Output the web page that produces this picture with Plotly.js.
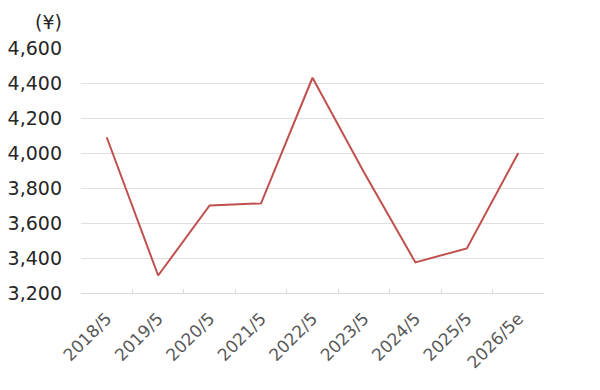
<!DOCTYPE html>
<html>
<head>
<meta charset="utf-8">
<script src="https://cdn.plot.ly/plotly-3.0.1.min.js"></script>
<style>html,body{margin:0;padding:0;background:#fff;}#chart{width:600px;height:390px;}</style>
</head>
<body>
<div id="chart"></div>
<script>
const categories = ["2018/5","2019/5","2020/5","2021/5","2022/5","2023/5","2024/5","2025/5","2026/5e"];
const values = [4090, 3300, 3700, 3712, 4430, 3890, 3375, 3455, 4000];
const yTicks = [3200, 3400, 3600, 3800, 4000, 4200, 4400, 4600];
const yTickLabels = ["3,200","3,400","3,600","3,800","4,000","4,200","4,400","4,600"];
const unitLabel = "(¥)";

const trace = {
  type: "scatter",
  mode: "lines",
  x: categories,
  y: values,
  line: {color: "#c0504d", width: 2},
  hoverinfo: "x+y"
};

const layout = {
  width: 600,
  height: 390,
  margin: {l: 81, r: 56, t: 48, b: 97},
  paper_bgcolor: "#ffffff",
  plot_bgcolor: "#ffffff",
  showlegend: false,
  font: {family: "DejaVu Sans, Verdana, sans-serif", color: "#333333"},
  xaxis: {
    type: "category",
    range: [-0.5, categories.length - 0.5],
    tickson: "boundaries",
    ticks: "inside",
    ticklen: 4,
    tickcolor: "#d9d9d9",
    showline: true,
    linecolor: "#d9d9d9",
    linewidth: 1,
    showgrid: false,
    tickangle: -45,
    ticklabelstandoff: 8,
    tickfont: {size: 17, color: "#595959"},
    fixedrange: true
  },
  yaxis: {
    range: [3200, 4600],
    tickvals: yTicks,
    ticktext: yTickLabels,
    showgrid: true,
    gridcolor: "#e0e0e0",
    gridwidth: 1,
    zeroline: false,
    showline: false,
    ticks: "",
    ticklabelstandoff: 18,
    tickfont: {size: 19, color: "#262626"},
    fixedrange: true
  },
  annotations: [{
    text: unitLabel,
    xref: "paper", yref: "paper",
    x: -0.037, y: 1.0,
    xanchor: "right", yanchor: "bottom",
    yshift: 13,
    showarrow: false,
    font: {size: 19, color: "#262626"}
  }]
};

Plotly.newPlot("chart", [trace], layout, {displayModeBar: false, staticPlot: true});
</script>
</body>
</html>
